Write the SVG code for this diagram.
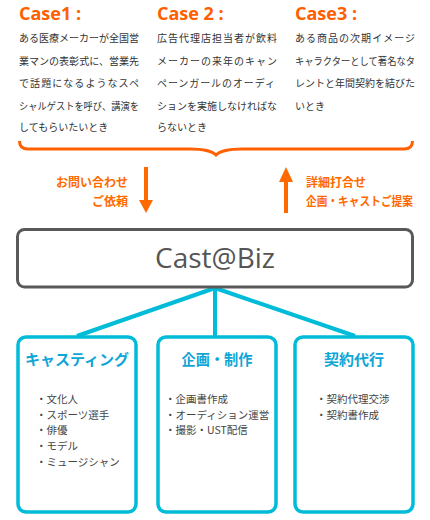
<svg xmlns="http://www.w3.org/2000/svg" width="430" height="520" viewBox="0 0 430 520">
<style>
.case{font-family:"Open Sans","Noto Sans",sans-serif;font-weight:bold;font-size:18px;fill:#ff5f00}
.body{font-family:"Noto Sans CJK JP",sans-serif;font-size:10px;fill:#333}
.lab{font-family:"Noto Sans CJK JP",sans-serif;font-weight:bold;font-size:12px;fill:#ff6a00}
.orange{stroke:#ff6000;fill:none}
.conn{stroke:#00bcd8;stroke-width:4;fill:none}
.box{fill:#fff;stroke:#00bcd8;stroke-width:3.5}
.title{font-family:"Noto Sans CJK JP",sans-serif;font-weight:bold;font-size:15px;fill:#0ea5d7;text-anchor:middle}
.item{font-family:"Noto Sans CJK JP",sans-serif;font-size:10.5px;fill:#444}
</style>
<g id="case1">
<text class="case" x="19" y="20">Case1 :</text>
<text class="body" x="19" y="42" textLength="120" lengthAdjust="spacingAndGlyphs">ある医療メーカーが全国営</text>
<text class="body" x="19" y="64.5" textLength="120" lengthAdjust="spacingAndGlyphs">業マンの表彰式に、営業先</text>
<text class="body" x="19" y="87" textLength="120" lengthAdjust="spacing">で話題になるようなスペ</text>
<text class="body" x="19" y="109.5" textLength="120" lengthAdjust="spacingAndGlyphs">シャルゲストを呼び、講演を</text>
<text class="body" x="19" y="131">してもらいたいとき</text>
</g>
<g id="case2">
<text class="case" x="157" y="20">Case 2 :</text>
<text class="body" x="157" y="42" textLength="120" lengthAdjust="spacing">広告代理店担当者が飲料</text>
<text class="body" x="157" y="64.5" textLength="120" lengthAdjust="spacing">メーカーの来年のキャン</text>
<text class="body" x="157" y="87" textLength="118" lengthAdjust="spacing">ペーンガールのオーディ</text>
<text class="body" x="157" y="109.5" textLength="120" lengthAdjust="spacing">ションを実施しなければな</text>
<text class="body" x="157" y="131">らないとき</text>
</g>
<g id="case3">
<text class="case" x="295" y="20">Case3 :</text>
<text class="body" x="295" y="42" textLength="120" lengthAdjust="spacing">ある商品の次期イメージ</text>
<text class="body" x="295" y="64.5" textLength="120" lengthAdjust="spacingAndGlyphs">キャラクターとして著名なタ</text>
<text class="body" x="295" y="87" textLength="120" lengthAdjust="spacing">レントと年間契約を結びた</text>
<text class="body" x="295" y="109.5">いとき</text>
</g>
<g id="brace">
<path class="orange" stroke-width="3" d="M19.5,141 Q19.5,149 28,149 L190,149 C205,149 212,151 216,155 C220,151 227,149 242,149 L404,149 Q412.5,149 412.5,141"/>
</g>
<g id="flow-arrows">
<g id="arrow-down">
<line x1="146" y1="167" x2="146" y2="201" stroke="#ff6a00" stroke-width="4"/>
<polygon points="139,200 153,200 146,213" fill="#ff6a00"/>
<text class="lab" x="128" y="187" text-anchor="end">お問い合わせ</text>
<text class="lab" x="128" y="206" text-anchor="end">ご依頼</text>
</g>
<g id="arrow-up">
<line x1="286" y1="181" x2="286" y2="213" stroke="#ff6a00" stroke-width="4"/>
<polygon points="279,182 293,182 286,167" fill="#ff6a00"/>
<text class="lab" x="306" y="187">詳細打合せ</text>
<text class="lab" x="306" y="206" textLength="107" lengthAdjust="spacingAndGlyphs">企画・キャストご提案</text>
</g>
</g>
<g id="connectors">
<line class="conn" x1="215" y1="288" x2="77" y2="336"/>
<line class="conn" x1="215" y1="288" x2="215" y2="337"/>
<line class="conn" x1="215" y1="288" x2="355" y2="336"/>
</g>
<g id="castbiz">
<rect x="17.5" y="229.5" width="395" height="57.5" rx="7" fill="#fff" stroke="#595959" stroke-width="3"/>
<text x="215" y="268" text-anchor="middle" font-family="'Open Sans','Noto Sans',sans-serif" font-size="28" fill="#555">Cast@Biz</text>
</g>
<g id="casting">
<rect class="box" x="18" y="337" width="118" height="175" rx="8"/>
<text class="title" x="77" y="365">キャスティング</text>
<text class="item" x="36" y="403">・文化人</text>
<text class="item" x="36" y="418.5">・スポーツ選手</text>
<text class="item" x="36" y="434">・俳優</text>
<text class="item" x="36" y="450">・モデル</text>
<text class="item" x="36" y="465.5">・ミュージシャン</text>
</g>
<g id="planning">
<rect class="box" x="158" y="337" width="118" height="175" rx="8"/>
<text class="title" x="217" y="365" textLength="71" lengthAdjust="spacingAndGlyphs">企画・制作</text>
<text class="item" x="165" y="403">・企画書作成</text>
<text class="item" x="165" y="418.5">・オーディション運営</text>
<text class="item" x="165" y="434">・撮影・UST配信</text>
</g>
<g id="contract">
<rect class="box" x="295" y="337" width="118" height="175" rx="8"/>
<text class="title" x="354" y="365">契約代行</text>
<text class="item" x="316" y="403">・契約代理交渉</text>
<text class="item" x="316" y="418.5">・契約書作成</text>
</g>
</svg>
